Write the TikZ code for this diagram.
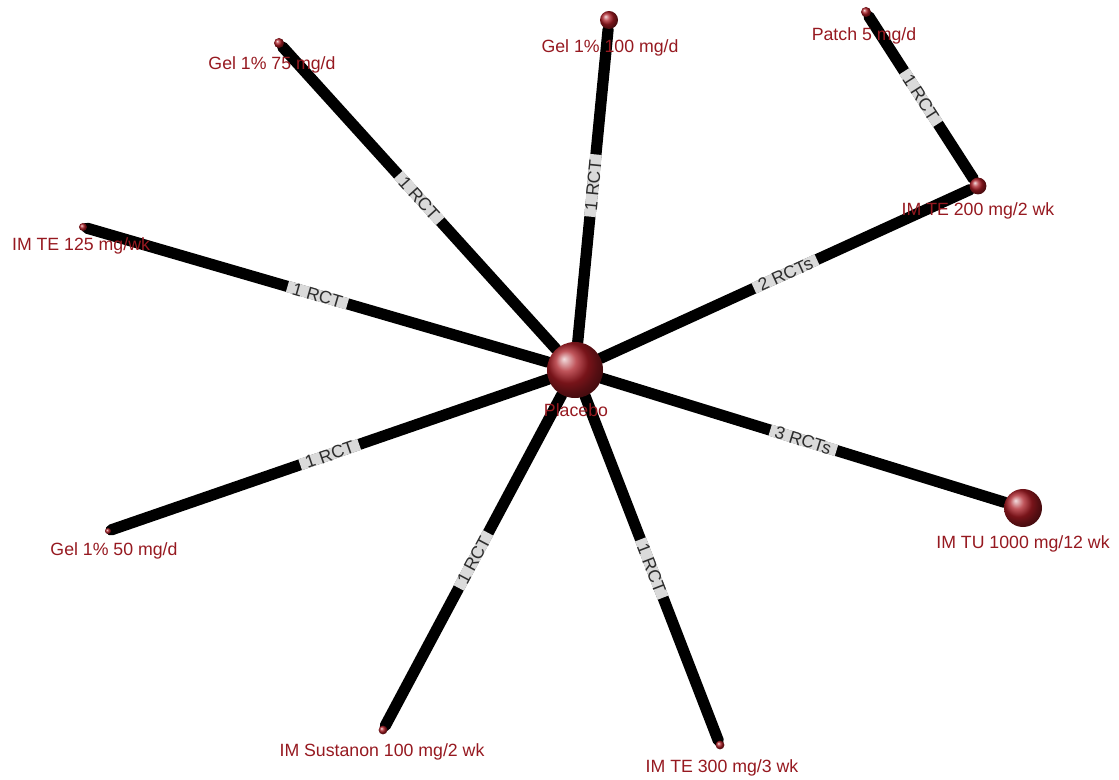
\documentclass[tikz,border=0pt]{standalone}
\usepackage{fontspec}
\setmainfont{Liberation Sans}
\definecolor{nmared}{RGB}{150,25,32}
\definecolor{nmaball}{RGB}{170,28,36}
\definecolor{nmaband}{RGB}{218,218,218}
\definecolor{nmatext}{RGB}{45,45,45}
\usetikzlibrary{backgrounds}
\newcommand{\rct}[1]{\raisebox{-.36em}[0pt][0pt]{#1}}

\begin{document}
\begin{tikzpicture}[
  x=0.025cm, y=-0.025cm,
  every node/.style={font=\fontsize{12.6}{14}\selectfont},
  drug/.style={circle,inner sep=0pt,minimum size=#1,shading=ball,ball color=nmaball},
  drugname/.style={anchor=base,text=nmared,inner sep=0pt},
  trial/.style={line width=0.28cm,black,line cap=round},
  rct/.style={sloped,fill=nmaband,text=nmatext,inner xsep=4pt,inner ysep=0pt,
              text height=0.145cm,text depth=0.145cm},
]
  \useasboundingbox (0,0) rectangle (1119,780);

  % treatments
  \node[drug=1.4cm]  (plac)  at (575,370) {};
  \node[drug=0.45cm] (g100)  at (609,20)  {};
  \node[drug=0.25cm] (g75)   at (279,43)  {};
  \node[drug=0.25cm] (patch) at (866,12)  {};
  \node[drug=0.42cm] (te200) at (978,186) {};
  \node[drug=0.2cm]  (te125) at (83,227)  {};
  \node[drug=0.15cm] (g50)   at (108,531) {};
  \node[drug=0.95cm] (tu)    at (1023,508) {};
  \node[drug=0.22cm] (sus)   at (383,730) {};
  \node[drug=0.22cm] (te300) at (720,745) {};

  % names
  \node[drugname] (plac-n)  at (576,417) {Placebo};
  \node[drugname] (g100-n)  at (610,53)  {Gel 1\% 100 mg/d};
  \node[drugname] (g75-n)   at (272,70)  {Gel 1\% 75 mg/d};
  \node[drugname] (patch-n) at (864,41)  {Patch 5 mg/d};
  \node[drugname] (te200-n) at (978,216) {IM TE 200 mg/2 wk};
  \node[drugname] (te125-n) at (81,251)  {IM TE 125 mg/wk};
  \node[drugname] (g50-n)   at (114,556) {Gel 1\% 50 mg/d};
  \node[drugname] (tu-n)    at (1023,548) {IM TU 1000 mg/12 wk};
  \node[drugname] (sus-n)   at (382,756) {IM Sustanon 100 mg/2 wk};
  \node[drugname] (te300-n) at (722,772) {IM TE 300 mg/3 wk};

  % comparisons
  \begin{scope}[on background layer]
    \draw[trial] (g100)  -- node[rct] {\rct{1 RCT}} (plac);
    \draw[trial] (g75)   -- node[rct] {\rct{1 RCT}} (plac);
    \draw[trial] (te125) -- node[rct] {\rct{1 RCT}} (plac);
    \draw[trial] (te200) -- node[rct] {\rct{2 RCTs}} (plac);
    \draw[trial] (patch) -- node[rct] {\rct{1 RCT}} (te200);
    \draw[trial] (tu)    -- node[rct] {\rct{3 RCTs}} (plac);
    \draw[trial] (g50)   -- node[rct] {\rct{1 RCT}} (plac);
    \draw[trial] (sus)   -- node[rct] {\rct{1 RCT}} (plac);
    \draw[trial] (te300) -- node[rct] {\rct{1 RCT}} (plac);
  \end{scope}
\end{tikzpicture}
\end{document}
